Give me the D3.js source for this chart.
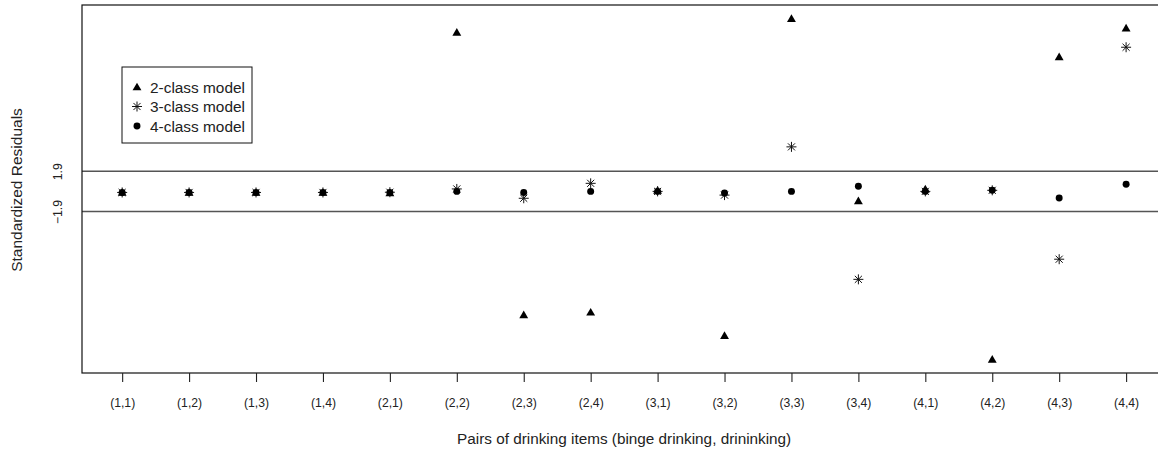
<!DOCTYPE html>
<html>
<head>
<meta charset="utf-8">
<script src="https://cdn.jsdelivr.net/npm/d3@7"></script>
<style>
  html, body { margin: 0; padding: 0; background: #fff; }
  svg { display: block; font-family: "Liberation Sans", Arial, sans-serif; }
</style>
</head>
<body>
<svg id="chart" width="1158" height="454"></svg>
<script>
// ---- data ----
const categories = ["(1,1)", "(1,2)", "(1,3)", "(1,4)", "(2,1)", "(2,2)", "(2,3)", "(2,4)",
                    "(3,1)", "(3,2)", "(3,3)", "(3,4)", "(4,1)", "(4,2)", "(4,3)", "(4,4)"];
const class2 = [-0.1, -0.1, -0.1, -0.1, -0.15, 15.0, -11.65, -11.4, 0.1, -13.6, 16.3, -0.9, 0.22, -15.85, 12.7, 15.4];
const class3 = [-0.1, -0.1, -0.1, -0.1, -0.08, 0.23, -0.65, 0.76, 0.0, -0.35, 4.2, -8.3, 0.0, 0.1, -6.4, 13.6];
const class4 = [-0.1, -0.1, -0.1, -0.1, -0.1, 0.0, -0.1, 0.0, 0.0, -0.15, 0.0, 0.48, 0.0, 0.1, -0.63, 0.67];
const yTicks = [-1.9, 1.9];
const legendLabels = ["2-class model", "3-class model", "4-class model"];

// ---- layout ----
const svg = d3.select("#chart");
const plotLeft = 82, plotTop = 5, plotBottom = 373;
const idx = categories.map((d, i) => i + 1);
const nCat = categories.length;
const xPad = (nCat - 1) * 0.04;
const x = d3.scaleLinear().domain([1 - xPad, nCat + xPad])
  .range([plotLeft, plotLeft + (nCat - 1 + 2 * xPad) * 66.93]);

const allVals = class2.concat(class3, class4);
const ext = d3.extent(allVals);
const yPad = (ext[1] - ext[0]) * 0.04;
const y = d3.scaleLinear().domain([ext[0] - yPad, ext[1] + yPad]).range([plotBottom, plotTop]);

const textColor = "#222";
const fontFam = "'Liberation Sans', Arial, sans-serif";

// reference lines
svg.selectAll("line.ref").data(yTicks).enter().append("line")
  .attr("class", "ref")
  .attr("x1", plotLeft).attr("x2", 1158)
  .attr("y1", d => y(d)).attr("y2", d => y(d))
  .attr("stroke", "#555").attr("stroke-width", 1.3);

// frame
svg.append("rect")
  .attr("x", plotLeft).attr("y", plotTop)
  .attr("width", x.range()[1] - plotLeft).attr("height", plotBottom - plotTop)
  .attr("fill", "none").attr("stroke", "#111").attr("stroke-width", 1.2);

// x axis
const xAxis = d3.axisBottom(x).tickValues(idx).tickFormat((d, i) => categories[i])
  .tickSize(9).tickPadding(16);
const gx = svg.append("g").attr("transform", `translate(0,${plotBottom})`).call(xAxis);
gx.attr("font-size", null).attr("font-family", null);
gx.select(".domain").remove();
gx.selectAll(".tick line").attr("stroke", "#222").attr("stroke-width", 1.1);
gx.selectAll(".tick text").attr("fill", textColor).style("font-size", "12.2px")
  .style("font-family", fontFam);

// y axis
const yAxis = d3.axisLeft(y).tickValues(yTicks).tickFormat(d3.format(".1f")).tickSize(0);
const gy = svg.append("g").attr("transform", `translate(${plotLeft},0)`).call(yAxis);
gy.attr("font-size", null).attr("font-family", null);
gy.select(".domain").remove();
gy.selectAll(".tick text")
  .attr("transform", "rotate(-90)")
  .attr("x", 0).attr("y", -20).attr("dy", 0)
  .attr("text-anchor", "middle")
  .attr("fill", textColor).style("font-size", "12.2px")
  .style("font-family", fontFam);

// axis titles
svg.append("text")
  .attr("x", (plotLeft + x.range()[1]) / 2).attr("y", 444)
  .attr("text-anchor", "middle").attr("fill", textColor).style("font-size", "15.3px")
  .text("Pairs of drinking items (binge drinking, drininking)");
svg.append("text")
  .attr("transform", `translate(22,190) rotate(-90)`)
  .attr("text-anchor", "middle").attr("fill", textColor).style("font-size", "15.5px")
  .text("Standardized Residuals");

// markers
const triPath = d3.symbol().type(d3.symbolTriangle).size(34)();
const circPath = d3.symbol().type(d3.symbolCircle).size(38)();
function starPath(r) {
  const a = r * Math.SQRT1_2;
  return `M${-r},0L${r},0M0,${-r}L0,${r}M${-a},${-a}L${a},${a}M${-a},${a}L${a},${-a}`;
}
function drawTri(g, cx, cy) {
  g.append("path").attr("d", triPath).attr("transform", `translate(${cx},${cy + 0.8})`).attr("fill", "#000");
}
function drawStar(g, cx, cy) {
  g.append("path").attr("d", starPath(5)).attr("transform", `translate(${cx},${cy})`)
    .attr("fill", "none").attr("stroke", "#111").attr("stroke-width", 1);
}
function drawCirc(g, cx, cy) {
  g.append("path").attr("d", circPath).attr("transform", `translate(${cx},${cy})`).attr("fill", "#000");
}

const gp = svg.append("g");
class2.forEach((v, i) => drawTri(gp, x(idx[i]), y(v)));
class3.forEach((v, i) => drawStar(gp, x(idx[i]), y(v)));
class4.forEach((v, i) => drawCirc(gp, x(idx[i]), y(v)));

// legend
const lg = svg.append("g");
lg.append("rect").attr("x", 122).attr("y", 67).attr("width", 130).attr("height", 76)
  .attr("fill", "#fff").attr("stroke", "#111").attr("stroke-width", 1);
const drawers = [drawTri, drawStar, drawCirc];
legendLabels.forEach((lab, i) => {
  const cy = 87 + i * 19.5;
  drawers[i](lg, 137, cy);
  lg.append("text").attr("x", 150).attr("y", cy).attr("dy", "0.36em")
    .attr("fill", textColor).style("font-size", "15.4px").text(lab);
});
</script>
</body>
</html>
